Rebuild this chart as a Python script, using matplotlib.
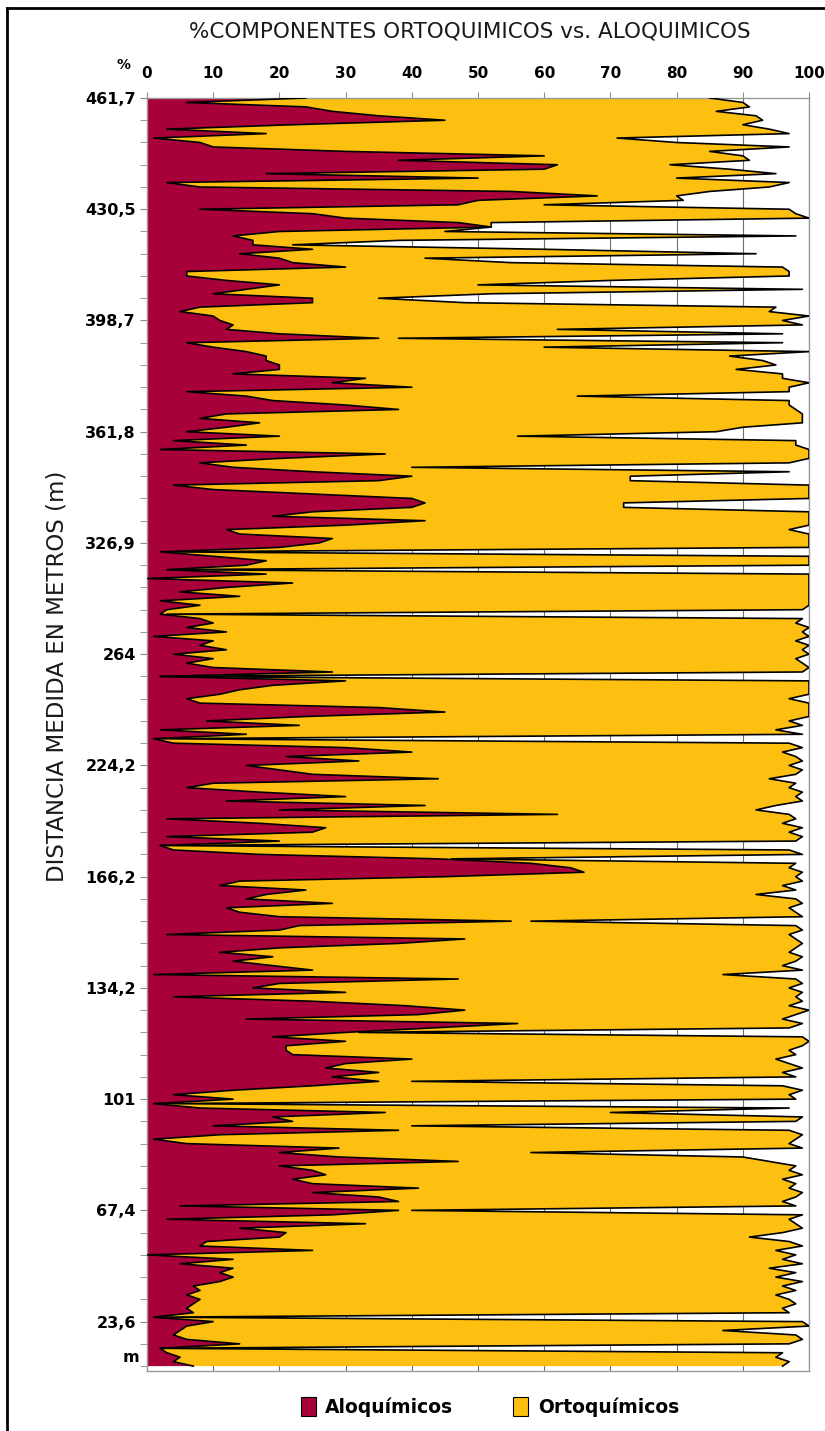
import numpy as np
import matplotlib.pyplot as plt
from matplotlib.lines import Line2D
from matplotlib.patches import Patch

titulo = '%COMPONENTES ORTOQUIMICOS vs. ALOQUIMICOS'
eje_y = 'DISTANCIA MEDIDA EN METROS (m)'
etiquetas_metros = ['461,7', '430,5', '398,7', '361,8', '326,9', '264',
                    '224,2', '166,2', '134,2', '101', '67,4', '23,6']
series = ['Aloquímicos', 'Ortoquímicos']
x_ticks = [0, 10, 20, 30, 40, 50, 60, 70, 80, 90, 100]

# muestras de techo (461,7 m) a base, 5 por division del eje
aloquimicos = [
    24, 6, 24, 28, 35, 45, 22, 3, 18, 1,
    8, 10, 30, 60, 38, 62, 60, 18, 50, 3,
    8, 55, 68, 50, 47, 8, 25, 30, 47, 52,
    20, 13, 16, 16, 25, 14, 20, 22, 30, 6,
    6, 12, 20, 15, 10, 25, 25, 8, 5, 10,
    11, 13, 12, 20, 35, 6, 10, 15, 18, 18,
    20, 20, 13, 33, 28, 40, 6, 15, 19, 30,
    38, 12, 8, 17, 12, 6, 20, 4, 15, 2,
    36, 20, 8, 13, 25, 40, 35, 4, 10, 25,
    40, 42, 40, 25, 19, 42, 30, 12, 14, 28,
    26, 20, 2, 10, 18, 15, 3, 18, 0, 22,
    12, 5, 14, 2, 8, 3, 2, 8, 10, 6,
    12, 1, 10, 8, 12, 4, 10, 6, 10, 28,
    2, 30, 19, 14, 11, 6, 8, 35, 45, 24,
    9, 23, 2, 15, 1, 4, 30, 40, 21, 32,
    15, 20, 25, 44, 10, 6, 17, 30, 12, 42,
    20, 62, 3, 17, 27, 25, 3, 20, 2, 4,
    17, 44, 58, 64, 66, 45, 14, 11, 24, 18,
    15, 28, 12, 14, 20, 55, 23, 20, 3, 48,
    38, 20, 11, 19, 13, 19, 25, 1, 47, 20,
    16, 30, 4, 25, 39, 48, 41, 15, 56, 43,
    30, 19, 30, 21, 21, 22, 40, 30, 27, 35,
    28, 35, 25, 13, 4, 13, 1, 8, 36, 19,
    22, 10, 38, 11, 1, 6, 29, 20, 29, 47,
    20, 25, 27, 22, 25, 41, 25, 35, 38, 5,
    38, 28, 3, 33, 14, 21, 20, 9, 8, 25,
    0, 13, 5, 13, 11, 13, 11, 7, 8, 6,
    8, 7, 6, 7, 1, 10, 6, 5, 4, 6,
    14, 2, 3, 5, 4, 7,
]

# borde exterior: aloquimicos + ortoquimicos
total = [
    85, 90, 91, 86, 92, 93, 90, 94, 97, 71,
    80, 97, 85, 90, 91, 79, 88, 95, 80, 97,
    94, 85, 80, 81, 60, 97, 98, 100, 52, 50,
    45, 98, 38, 22, 60, 92, 42, 55, 96, 97,
    97, 70, 50, 99, 52, 35, 48, 95, 94, 100,
    96, 99, 62, 96, 38, 96, 60, 100, 88, 93,
    95, 89, 96, 96, 100, 97, 97, 65, 97, 97,
    98, 99, 99, 99, 90, 86, 56, 98, 98, 100,
    100, 100, 97, 40, 97, 73, 73, 100, 100, 100,
    100, 72, 72, 100, 100, 100, 100, 97, 100, 100,
    100, 100, 3, 100, 100, 100, 4, 100, 100, 100,
    100, 100, 100, 100, 100, 99, 3, 99, 98, 100,
    99, 100, 98, 100, 99, 100, 98, 99, 100, 99,
    2, 100, 100, 100, 100, 97, 100, 100, 100, 100,
    97, 99, 95, 99, 2, 97, 99, 96, 98, 99,
    97, 99, 98, 94, 98, 97, 99, 98, 99, 95,
    92, 97, 98, 96, 99, 97, 99, 98, 2, 97,
    99, 46, 98, 97, 99, 98, 99, 96, 98, 92,
    98, 99, 97, 98, 99, 58, 98, 99, 97, 98,
    99, 98, 97, 99, 98, 96, 99, 87, 98, 99,
    97, 99, 98, 99, 97, 100, 98, 96, 99, 97,
    32, 99, 100, 99, 97, 98, 95, 97, 99, 96,
    98, 40, 96, 99, 97, 98, 3, 97, 70, 99,
    98, 40, 97, 99, 98, 97, 99, 58, 90, 94,
    98, 97, 99, 96, 98, 97, 99, 98, 96, 98,
    40, 99, 97, 98, 99, 96, 91, 97, 99, 95,
    98, 96, 99, 94, 98, 95, 99, 96, 98, 95,
    97, 98, 96, 97, 2, 99, 100, 87, 98, 99,
    97, 2, 96, 95, 97, 96,
]

ROJO = '#a8003a'
AMARILLO = '#fdbf10'

alo = np.array(aloquimicos, dtype=float)
tot = np.maximum(np.array(total, dtype=float), alo)
n = len(alo)
pos = np.arange(n)[::-1]

fig = plt.figure(figsize=(8.25, 14.31), dpi=100)
ax = fig.add_axes([147 / 825, 1 - 1371 / 1431, 662 / 825, 1273 / 1431])

ax.fill_betweenx(pos, 0, alo, facecolor=ROJO, lw=0, zorder=2)
ax.fill_betweenx(pos, alo, tot, facecolor=AMARILLO, lw=0, zorder=2)
ax.plot(alo, pos, color='black', lw=1.2, zorder=3)
ax.plot(tot, pos, color='black', lw=1.2, zorder=3)

ax.set_xlim(0, 100)
ax.set_ylim(-1.1, n - 1)
ax.set_axisbelow(True)
ax.xaxis.grid(True, color='#6e6e6e', lw=0.8)

ax.xaxis.tick_top()
ax.set_xticks(x_ticks)
ax.set_xticklabels([str(v) for v in x_ticks], fontsize=11, fontweight='bold')
ax.tick_params(axis='x', length=4, color='#8c8c8c', pad=8)

major = np.arange(n - 1, -1, -25)[:len(etiquetas_metros)]
ax.set_yticks(major)
ax.set_yticklabels(etiquetas_metros, fontsize=11.5, fontweight='bold')
ax.set_yticks(np.arange(n - 1, -1, -5), minor=True)
ax.tick_params(axis='y', which='both', length=5, color='#8c8c8c', pad=3)
ax.text(-1.2, 2, 'm', ha='right', va='center', fontsize=11.5, fontweight='bold')
ax.text(-2.5, n + 6.5, '%', ha='right', va='center', fontsize=10, fontweight='bold')

for s in ax.spines.values():
    s.set_color('#9a9a9a')
    s.set_linewidth(1)

fig.text(470 / 825, 1 - 31 / 1431, titulo, ha='center', va='center',
         fontsize=15.5, color='#1a1a1a')
fig.text(57 / 825, 1 - 676 / 1431, eje_y, ha='center', va='center',
         rotation=90, fontsize=16.5, color='#1a1a1a')

handles = [Patch(facecolor=ROJO, edgecolor='black', lw=0.8),
           Patch(facecolor=AMARILLO, edgecolor='black', lw=0.8)]
fig.legend(handles, series, loc='center', bbox_to_anchor=(490 / 825, 1 - 1407 / 1431),
           ncol=2, frameon=False, handlelength=0.8, handleheight=1.2,
           handletextpad=0.5, columnspacing=3.2,
           prop={'size': 13.5, 'weight': 'bold'})

fig.add_artist(Line2D([7 / 825, 7 / 825], [0, 1 - 8 / 1431], color='black', lw=2))
fig.add_artist(Line2D([7 / 825, 1], [1 - 8 / 1431, 1 - 8 / 1431], color='black', lw=2))

fig.savefig('out.png', dpi=100)
